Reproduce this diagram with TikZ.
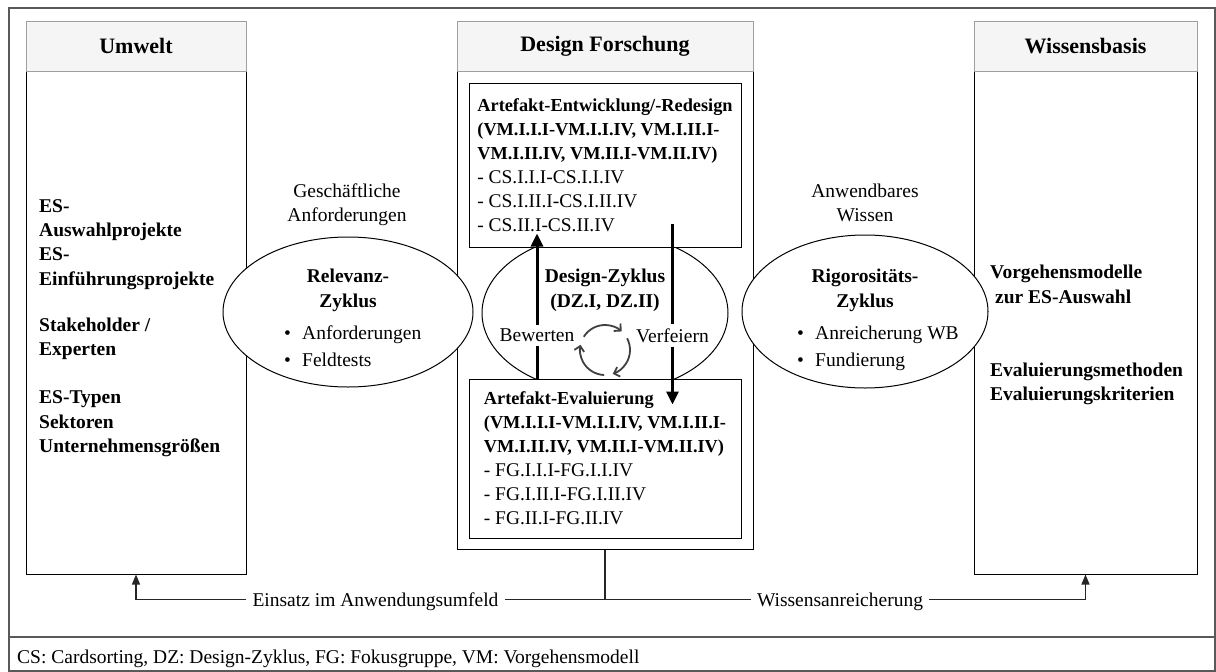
\documentclass[tikz,border=0pt]{standalone}
\usepackage{fontspec}
\setmainfont{Liberation Serif}
\usetikzlibrary{shapes.geometric,arrows.meta,calc}
\tikzset{
	saeule/.style={draw,line width=1pt,fill=white},
	kopf/.style={draw=gray!75,fill=gray!8,line width=1pt,minimum height=50pt,
		font=\bfseries\fontsize{22}{26}\selectfont},
	ibox/.style={draw,line width=1pt,fill=white,align=left,inner xsep=8pt,
		minimum width=272pt,font=\fontsize{19.4}{24}\selectfont},
	zyk/.style={ellipse,draw,fill=white,line width=1pt},
	lbl/.style={font=\fontsize{19.5}{24.5}\selectfont},
	fett/.style={font=\bfseries\fontsize{19.5}{24.3}\selectfont,align=left,inner sep=0pt},
	dick/.style={line width=3pt},
	duenn/.style={line width=1.2pt,draw=black!85},
	rund/.style={line width=1.8pt,draw=black!75,-{Straight Barb[length=5pt,width=10pt]}},
	rahmen/.style={line width=1.5pt,draw=black!65}
}
\newcommand{\Pkt}{\makebox[18pt][l]{\textbullet}}
\newcommand{\Fz}[1]{{\bfseries\fontsize{18.3}{24}\selectfont #1}}
\newcommand{\Saeule}[6]{
	%body
	\node[saeule,minimum width=#3pt,minimum height=#4pt] (#1) at (#2,#5) {};
	%head
	\node[kopf,minimum width=#3pt,anchor=north] (#1k) at (#1.north) {#6};
}

\begin{document}
\begin{tikzpicture}[x=1pt,y=-1pt]
\useasboundingbox (0,0) rectangle (1216,672);
%frame
\draw[rahmen] (9,8) rectangle (1215,671);
\draw[rahmen] (9,637) -- (1215,637);

%columns
\Saeule{umw}{136}{220}{553}{297.5}{Umwelt}
\Saeule{dfo}{605}{296}{528}{285}{Design Forschung}
\Saeule{wib}{1085.5}{223}{553}{297.5}{Wissensbasis}

\node[fett,anchor=north west] (umwtxt) at (39,199) {ES-\\Auswahlprojekte\\ES-\\Einführungsprojekte\\[22pt]Stakeholder /\\Experten\\[24pt]ES-Typen\\Sektoren\\Unternehmensgrößen};
\node[fett,anchor=north west] (wibtxt) at (990,265) {Vorgehensmodelle\\\hspace{5pt}zur ES-Auswahl\\[49pt]Evaluierungsmethoden\\Evaluierungskriterien};

%cycles
\node[zyk,minimum width=250pt,minimum height=150pt] (rz) at (348,312) {};
\node[zyk,minimum width=246pt,minimum height=160pt] (dz) at (605,313) {};
\node[zyk,minimum width=246pt,minimum height=153pt] (rgz) at (865,311.5) {};

\node[fett,align=center,anchor=north] (rzt) at (rz.center |- 0,269) {Relevanz-\\Zyklus};
\node[lbl,align=left,anchor=north west,inner sep=0pt] (rzl) at (284,326) {\Pkt Anforderungen\\[2.5pt]\Pkt Feldtests};
\node[fett,align=center,anchor=north] (dzt) at (dz.center |- 0,269) {Design-Zyklus\\(DZ.I, DZ.II)};
\node[fett,align=center,anchor=north] (rgzt) at (rgz.center |- 0,269) {Rigorositäts-\\Zyklus};
\node[lbl,align=left,anchor=north west,inner sep=0pt] (rgzl) at (797,326) {\Pkt Anreicherung WB\\[2.5pt]\Pkt Fundierung};

\node[lbl,align=center,anchor=north] (ga) at (347,180) {Geschäftliche\\Anforderungen};
\node[lbl,align=center,anchor=north] (aw) at (865,180) {Anwendbares\\Wissen};

%artefact boxes
\node[ibox,minimum height=164pt] (enb) at (605,165) {\Fz{Artefakt-Entwicklung/-Redesign}\\\Fz{(VM.I.I.I-VM.I.I.IV, VM.I.II.I-}\\\Fz{VM.I.II.IV, VM.II.I-VM.II.IV)}\\- CS.I.I.I-CS.I.I.IV\\- CS.I.II.I-CS.I.II.IV\\- CS.II.I-CS.II.IV};
\node[ibox,minimum height=159pt] (evb) at (605,458.5) {\Fz{Artefakt-Evaluierung}\\\Fz{(VM.I.I.I-VM.I.I.IV, VM.I.II.I-}\\\Fz{VM.I.II.IV, VM.II.I-VM.II.IV)}\\- FG.I.I.I-FG.I.I.IV\\- FG.I.II.I-FG.I.II.IV\\- FG.II.I-FG.II.IV};

%design arrows
\node[lbl,inner sep=4pt] (bw) at (537,335.5) {Bewerten};
\node[lbl,inner sep=4pt] (vf) at (672.5,335.5) {Verfeiern};
\draw[dick] (bw.south |- evb.north) -- (bw.south);
\draw[dick,-{Triangle[length=13pt,width=12pt]}] (bw.north) -- ($(bw.north |- enb.south)+(0,-14)$);
\draw[dick] ($(vf.north |- enb.south)+(0,-24)$) -- (vf.north);
\draw[dick,-{Triangle[length=13pt,width=12pt]}] (vf.south) -- ($(vf.south |- evb.north)+(0,26)$);

\coordinate (kreis) at (605,350);
\foreach \w in {212,332,92}{
	\draw[rund] ($(kreis)+(\w:25)$) arc[start angle=\w,end angle=\w+100,radius=25];
}

%bottom
\coordinate (gabel) at ($(dfo.south)+(0,50)$);
\node[lbl,inner xsep=6pt] (einsatz) at (375.5,602) {Einsatz im Anwendungsumfeld};
\node[lbl,inner xsep=6pt] (wissen) at (840,602) {Wissensanreicherung};
\draw[duenn] (dfo.south) -- (gabel);
\draw[duenn] (gabel) -- (gabel -| einsatz.east);
\draw[duenn] (gabel) -- (gabel -| wissen.west);
\draw[duenn,-{Triangle[length=10pt,width=8pt]}] (gabel -| einsatz.west) -| (umw.south);
\draw[duenn,-{Triangle[length=10pt,width=8pt]}] (gabel -| wissen.east) -| (wib.south);

%legend
\node[lbl,anchor=base west,inner sep=0pt] (fuss) at (17,663) {CS: Cardsorting, DZ: Design-Zyklus, FG: Fokusgruppe, VM: Vorgehensmodell};
\end{tikzpicture}
\end{document}
